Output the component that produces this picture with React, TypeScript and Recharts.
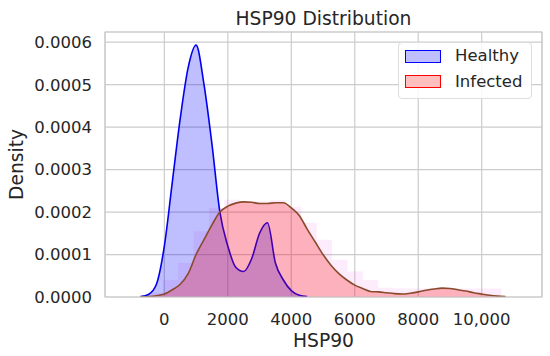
import React from "react";
import { ComposedChart, Area, XAxis, YAxis, CartesianGrid, ReferenceArea } from "recharts";

// KDE grid (HSP90 values) and densities
const kdeX = [
  -1000, -750, -500, -250, 0, 250, 500, 750, 1000, 1250, 1500, 1750, 2000, 2250, 2500, 2750, 3000, 3250,
  3500, 3750, 4000, 4250, 4500, 4750, 5000, 5250, 5500, 5750, 6000, 6250, 6500, 6750, 7000, 7250, 7500,
  7750, 8000, 8250, 8500, 8750, 9000, 9250, 9500, 9750, 10000, 10250, 10500, 10750, 11000,
];

const healthy = [
  null, 0.000001, 0.000006, 0.00003, 0.00012, 0.00027, 0.00042, 0.00054, 0.000593, 0.0005, 0.00036, 0.0002,
  0.00012, 0.00007, 0.00006, 0.00009, 0.00015, 0.000175, 0.00008, 0.00004, 0.000015, 0.000004, 0.000001,
  null, null, null, null, null, null, null, null, null, null, null, null, null, null, null, null, null, null,
  null, null, null, null, null, null, null, null,
];

const infected = [
  null, 0, 0.000001, 0.000003, 0.000007, 0.000017, 0.00003, 0.000055, 0.0001, 0.000135, 0.00017, 0.0002,
  0.000214, 0.000221, 0.000224, 0.000223, 0.00022, 0.00022, 0.000222, 0.000222, 0.00021, 0.000192, 0.00016,
  0.00013, 0.0001, 0.000075, 0.000055, 0.00004, 0.000028, 0.00002, 0.000013, 0.000012, 0.00001, 0.000008,
  0.000007, 0.000009, 0.000012, 0.000016, 0.000019, 0.000021, 0.00002, 0.000017, 0.000014, 0.00001,
  0.000007, 0.000004, 0.000002, 0.000001, null,
];

// faint histogram behind the curves (infected), bin edges and densities
const binEdges = [
  -535, -50, 435, 920, 1405, 1890, 2375, 2860, 3345, 3830, 4315, 4800, 5285, 5770, 6255, 6740, 7225, 7710,
  8195, 8680, 9165, 9650, 10135, 10620,
];
const binDensity = [
  0.00001, 0.00004, 0.00008, 0.000155, 0.00021, 0.000229, 0.000225, 0.000225, 0.000228, 0.000212, 0.000175,
  0.000135, 0.000088, 0.00006, 0.00004, 0.000022, 0.00002, 0.00002, 0.00002, 0.000021, 0.00002, 0.00002,
  0.00002, 0.00002,
];

const xTicks = [0, 2000, 4000, 6000, 8000, 10000];
const yTicks = [0, 0.0001, 0.0002, 0.0003, 0.0004, 0.0005, 0.0006];

const rows = kdeX.map((x, i) => ({ x, healthy: healthy[i], infected: infected[i] }));
const histRows = binEdges.map((x, i) => ({ x, h: binDensity[i] }));

const FONT = "'DejaVu Sans', sans-serif";
const INK = "#262626";

const legendItems = [
  { name: "Healthy", fill: "#bfbfff", edge: "#0000ff" },
  { name: "Infected", fill: "#ffbfbf", edge: "#ff0000" },
];

function LegendBox() {
  return (
    <div
      style={{
        position: "absolute",
        left: 398,
        top: 42,
        width: 134,
        height: 57,
        boxSizing: "border-box",
        background: "rgba(255,255,255,0.85)",
        border: "1px solid #dddddd",
        borderRadius: 4,
        fontSize: 16.5,
        color: INK,
      }}
    >
      {legendItems.map((it, i) => (
        <div key={it.name} style={{ position: "absolute", left: 6, top: 6 + i * 25.5, height: 14, display: "flex", alignItems: "center" }}>
          <div style={{ width: 34, height: 11, background: it.fill, border: `1.3px solid ${it.edge}` }} />
          <span style={{ marginLeft: 14, lineHeight: "14px" }}>{it.name}</span>
        </div>
      ))}
    </div>
  );
}

export default function App() {
  return (
    <div style={{ position: "absolute", left: 0, top: 0, width: 550, height: 356, background: "#fff", fontFamily: FONT }}>
      <ComposedChart width={550} height={356} data={rows} margin={{ top: 32, right: 8, bottom: 0, left: 0 }}>
        <CartesianGrid stroke="#cccccc" strokeWidth={1.2} />
        <XAxis
          dataKey="x"
          type="number"
          domain={[-1870, 11900]}
          allowDataOverflow
          ticks={xTicks}
          tickFormatter={(v) => (v >= 10000 ? v.toLocaleString("en-US") : String(v))}
          height={59}
          axisLine={false}
          tickLine={false}
          tickSize={0}
          tickMargin={16}
          tick={{ fill: INK, fontSize: 16.5, fontFamily: FONT }}
        />
        <YAxis
          type="number"
          domain={[0, 0.000624]}
          allowDataOverflow
          ticks={yTicks}
          tickFormatter={(v) => v.toFixed(4)}
          width={105}
          axisLine={false}
          tickLine={false}
          tickSize={0}
          tickMargin={13}
          tick={{ fill: INK, fontSize: 16.5, fontFamily: FONT }}
        />
        <Area
          data={histRows}
          dataKey="h"
          type="stepAfter"
          stroke="none"
          fill="#f040e0"
          fillOpacity={0.1}
          dot={false}
          activeDot={false}
          isAnimationActive={false}
        />
        <Area
          dataKey="healthy"
          type="monotone"
          stroke="#0000ee"
          strokeWidth={1.6}
          fill="#0000ff"
          fillOpacity={0.25}
          dot={false}
          activeDot={false}
          isAnimationActive={false}
        />
        <Area
          dataKey="infected"
          type="monotone"
          stroke="#8b4a2b"
          strokeWidth={1.6}
          fill="#ff0000"
          fillOpacity={0.25}
          dot={false}
          activeDot={false}
          isAnimationActive={false}
        />
        <ReferenceArea
          x1={-1870}
          x2={11900}
          y1={0}
          y2={0.000624}
          fill="none"
          stroke="#cccccc"
          strokeWidth={1.2}
          ifOverflow="visible"
        />
      </ComposedChart>
      <LegendBox />
      <div style={{ position: "absolute", left: 105, width: 437, top: 10, textAlign: "center", fontSize: 18.7, lineHeight: "18.7px", color: INK }}>
        HSP90 Distribution
      </div>
      <div style={{ position: "absolute", left: 105, width: 437, top: 332, textAlign: "center", fontSize: 18.7, lineHeight: "18.7px", color: INK }}>
        HSP90
      </div>
      <div
        style={{
          position: "absolute",
          left: 16.8 - 50,
          top: 164.5 - 9.35,
          width: 100,
          textAlign: "center",
          fontSize: 18.7,
          lineHeight: "18.7px",
          color: INK,
          transform: "rotate(-90deg)",
        }}
      >
        Density
      </div>
    </div>
  );
}
